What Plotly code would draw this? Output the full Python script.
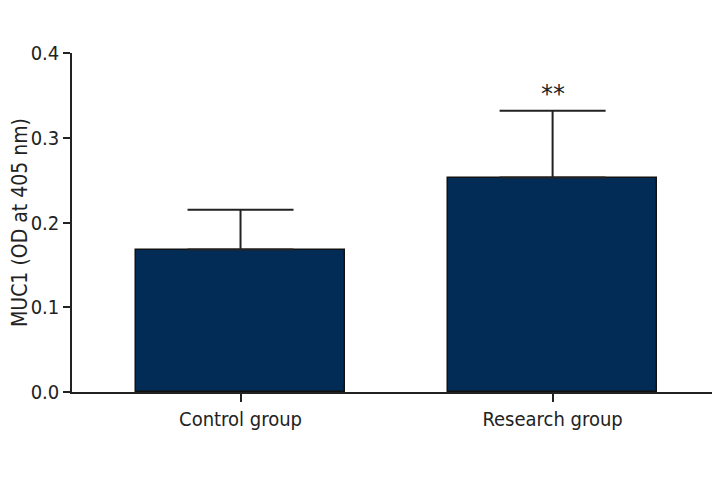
import plotly.graph_objects as go

categories = ["Control group", "Research group"]
means = [0.168, 0.253]
errors_up = [0.047, 0.079]
significance = ["", "**"]

fig = go.Figure()
fig.add_trace(go.Bar(
    x=[0, 1], y=means, width=0.67,
    marker=dict(color="#022b56", line=dict(color="#111111", width=1.5)),
    error_y=dict(type="data", symmetric=False, array=errors_up,
                 arrayminus=[0] * len(means), color="#222222", thickness=2, width=53),
))
for i, s in enumerate(significance):
    if s:
        fig.add_annotation(x=i, y=means[i] + errors_up[i], text=s, showarrow=False,
                           yshift=17, font=dict(size=24, color="#222222",
                                                family="DejaVu Sans"))

font = "DejaVu Sans Condensed"
fig.update_layout(
    width=720, height=480, plot_bgcolor="white", paper_bgcolor="white",
    margin=dict(l=64, r=10, t=45, b=96), showlegend=False, bargap=0,
    font=dict(family=font, size=20, color="#222222"),
    xaxis=dict(range=[-0.54, 1.53], tickvals=[0, 1], ticktext=categories,
               showline=True, linecolor="#222222", linewidth=1.5,
               ticks="outside", ticklen=8, tickwidth=1.5, tickcolor="#222222",
               showgrid=False, zeroline=False, automargin=False,
               tickfont=dict(size=20)),
    yaxis=dict(range=[0, 0.4], dtick=0.1, tickformat=".1f",
               showline=True, linecolor="#222222", linewidth=1.5,
               ticks="outside", ticklen=7, tickwidth=1.5, tickcolor="#222222",
               showgrid=False, zeroline=False, automargin=False,
               tickfont=dict(size=20),
               title=dict(text="MUC1 (OD at 405 nm)", standoff=5,
                          font=dict(size=21))),
)
fig.write_html("out.html")
